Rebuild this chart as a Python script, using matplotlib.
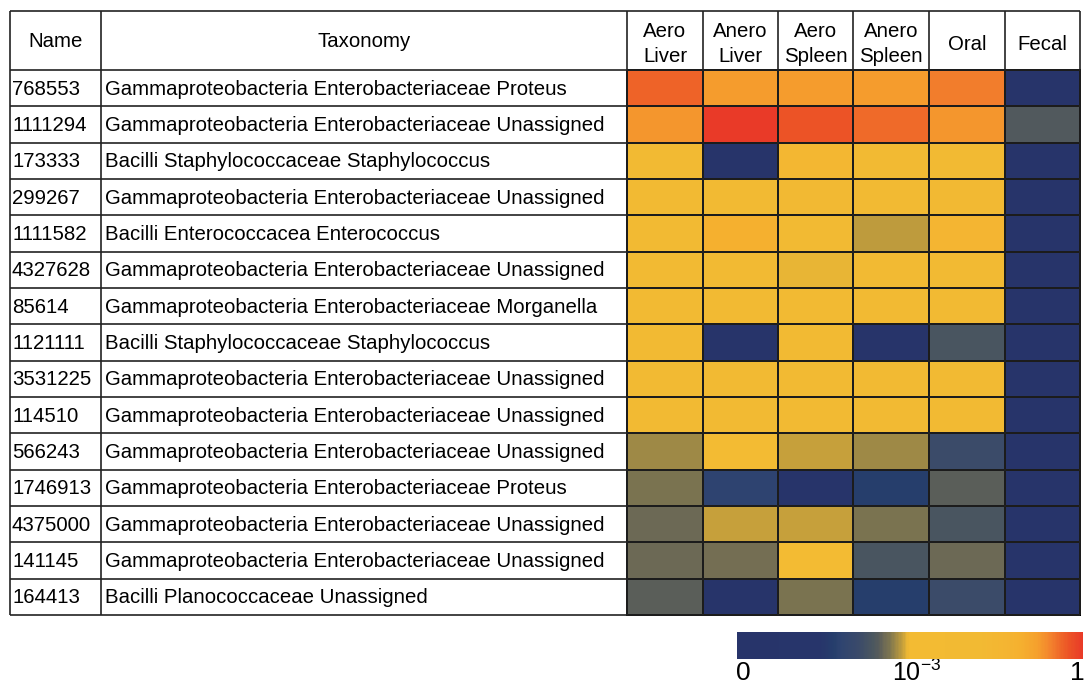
import numpy as np
import matplotlib
matplotlib.use("Agg")
import matplotlib.pyplot as plt
from matplotlib.colors import LinearSegmentedColormap, Normalize
from matplotlib.cm import ScalarMappable

plt.rcParams["font.family"] = ["Liberation Sans", "DejaVu Sans"]

names = ["768553", "1111294", "173333", "299267", "1111582", "4327628", "85614",
         "1121111", "3531225", "114510", "566243", "1746913", "4375000", "141145",
         "164413"]
taxonomy = [
    "Gammaproteobacteria Enterobacteriaceae Proteus",
    "Gammaproteobacteria Enterobacteriaceae Unassigned",
    "Bacilli Staphylococcaceae Staphylococcus",
    "Gammaproteobacteria Enterobacteriaceae Unassigned",
    "Bacilli Enterococcacea Enterococcus",
    "Gammaproteobacteria Enterobacteriaceae Unassigned",
    "Gammaproteobacteria Enterobacteriaceae Morganella",
    "Bacilli Staphylococcaceae Staphylococcus",
    "Gammaproteobacteria Enterobacteriaceae Unassigned",
    "Gammaproteobacteria Enterobacteriaceae Unassigned",
    "Gammaproteobacteria Enterobacteriaceae Unassigned",
    "Gammaproteobacteria Enterobacteriaceae Proteus",
    "Gammaproteobacteria Enterobacteriaceae Unassigned",
    "Gammaproteobacteria Enterobacteriaceae Unassigned",
    "Bacilli Planococcaceae Unassigned",
]
samples = ["Aero\nLiver", "Anero\nLiver", "Aero\nSpleen", "Anero\nSpleen", "Oral", "Fecal"]

# relative abundance per sample (0 .. 1)
aero_liver = [0.44, 0.19, 0.016, 0.016, 0.008, 0.008, 0.008, 0.008, 0.008, 0.008,
              5.8e-4, 4.4e-4, 3.5e-4, 3.5e-4, 2.9e-4]
anero_liver = [0.17, 0.95, 0, 0.012, 0.083, 0.008, 0.008, 0, 0.008, 0.008,
               0.004, 6.3e-5, 7.6e-4, 3.8e-4, 0]
aero_spleen = [0.17, 0.58, 0.032, 0.02, 0.008, 8.7e-4, 0.008, 0.008, 0.008, 0.008,
               7.6e-4, 0, 7.6e-4, 0.004, 4.4e-4]
anero_spleen = [0.17, 0.38, 0.008, 0.012, 7.1e-4, 0.008, 0.008, 0, 0.008, 0.008,
                5.8e-4, 4.8e-5, 4.4e-4, 2.2e-4, 4.8e-5]
oral = [0.29, 0.19, 0.008, 0.02, 0.048, 0.008, 0.008, 2.2e-4, 0.008, 0.008,
        1.3e-4, 2.9e-4, 2.2e-4, 3.5e-4, 1.3e-4]
fecal = [0, 2.5e-4, 0, 0, 0, 0, 0, 0, 0, 0, 0, 0, 0, 0, 0]

values = np.array([aero_liver, anero_liver, aero_spleen, anero_spleen, oral, fecal]).T

# colour scale: 0 at left, log10 from 1e-6 .. 1 (1e-3 in the middle)
pos = np.where(values > 0, (np.log10(np.maximum(values, 1e-12)) + 6) / 6, 0)
pos = np.clip(pos, 0, 1)

cmap = LinearSegmentedColormap.from_list("abund", [
    (0.00, "#27346a"), (0.24, "#27356b"), (0.28, "#263e6c"), (0.30, "#2f4470"),
    (0.35, "#3a4a6a"), (0.39, "#4a5660"), (0.41, "#575c5a"), (0.425, "#6e6a55"),
    (0.44, "#7b7450"), (0.46, "#a08a45"), (0.48, "#c9a23a"), (0.49, "#e8b535"),
    (0.50, "#f3bb33"), (0.70, "#f2ba33"), (0.78, "#f4b532"), (0.82, "#f5b02f"),
    (0.87, "#f5a02d"), (0.91, "#f3802d"), (0.94, "#ee6428"), (0.96, "#ec5426"),
    (1.00, "#e93a28"),
])

fig = plt.figure(figsize=(10.85, 6.84), dpi=100)
ax = fig.add_axes([0, 0, 1, 1])
ax.set_xlim(0, 1085)
ax.set_ylim(684, 0)
ax.axis("off")

col_edges = [10, 101, 627, 703, 778, 853, 929, 1005, 1080]
header_top, header_bot = 11, 70
row_h = (615 - header_bot) / len(names)
row_edges = header_bot + row_h * np.arange(len(names) + 1)

ax.pcolormesh(col_edges[2:], row_edges, pos, cmap=cmap, vmin=0, vmax=1,
              edgecolors="black", linewidth=1.2)

# grid lines
lc = "#222222"
for y in [header_top, header_bot] + list(row_edges[1:]):
    ax.hlines(y, col_edges[0], col_edges[-1], color=lc, lw=1.2)
for x in col_edges:
    ax.vlines(x, header_top, row_edges[-1], color=lc, lw=1.2)

fs = 14.7
hy = (header_top + header_bot) / 2 + 1
ax.text((col_edges[0] + col_edges[1]) / 2, hy, "Name", ha="center", va="center", fontsize=fs)
ax.text((col_edges[1] + col_edges[2]) / 2, hy, "Taxonomy", ha="center", va="center", fontsize=fs)
for j, s in enumerate(samples):
    ax.text((col_edges[j + 2] + col_edges[j + 3]) / 2, hy + 2.5, s, ha="center", va="center",
            fontsize=fs, linespacing=1.4)

for i, (n, t) in enumerate(zip(names, taxonomy)):
    yc = (row_edges[i] + row_edges[i + 1]) / 2 + 1
    ax.text(col_edges[0] + 2, yc, n, ha="left", va="center", fontsize=fs)
    ax.text(col_edges[1] + 4, yc, t, ha="left", va="center", fontsize=fs)

# colour bar
cax = fig.add_axes([737 / 1085, 1 - 659 / 684, 346 / 1085, 27 / 684])
sm = ScalarMappable(norm=Normalize(0, 1), cmap=cmap)
cb = fig.colorbar(sm, cax=cax, orientation="horizontal")
cb.outline.set_visible(False)
cb.set_ticks([])

ax.text(743, 661, "0", ha="center", va="top", fontsize=19)
ax.text(917, 681, "$\\mathregular{10^{-3}}$", ha="center", va="baseline", fontsize=18)
ax.text(1077, 661, "1", ha="center", va="top", fontsize=19)

fig.savefig("out.png", dpi=100)
